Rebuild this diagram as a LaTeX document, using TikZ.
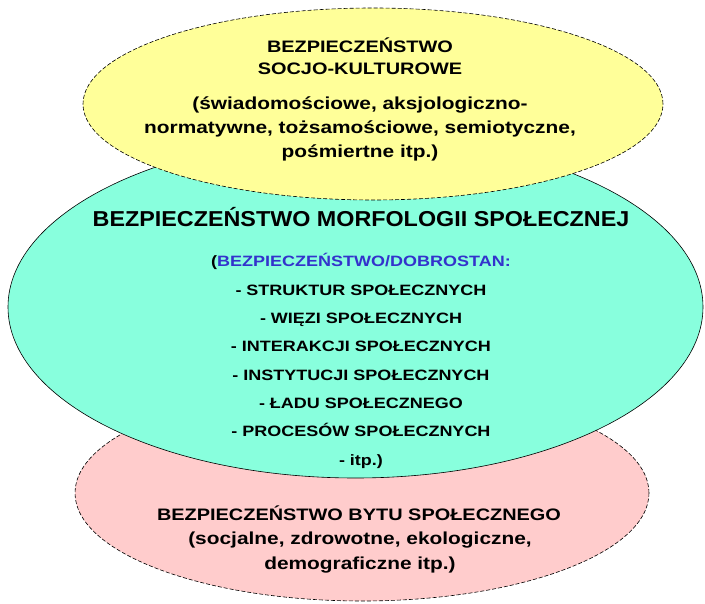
\documentclass[tikz,border=0pt]{standalone}
\usepackage{fontspec}
\setmainfont{Liberation Sans}[FakeStretch=1.2]
\newfontfamily\tytulfont{Liberation Sans}[FakeStretch=1.08]
\usetikzlibrary{shapes,positioning}
\definecolor{lightyellow}{HTML}{FFFF99}
\definecolor{aquamarine}{HTML}{88FFDD}
\definecolor{lightpink}{HTML}{FFCCCC}
\definecolor{darkblue}{HTML}{3333CC}

\begin{document}
\begin{tikzpicture}[x=1pt,y=-1pt]
   \useasboundingbox (0,0) rectangle (705,604);
   \tikzset{sfera/.style={ellipse, draw, line width=0.6pt, inner sep=0pt},
            przerywana/.style={dash pattern=on 4pt off 2pt}}
   % ellipses, back to front
   \node[sfera, przerywana, fill=lightpink, minimum width=574pt, minimum height=216pt] (byt) at (362,493) {};
   \node[sfera, fill=aquamarine, minimum width=695pt, minimum height=342pt] (morfologia) at (355.5,307) {};
   \node[sfera, przerywana, fill=lightyellow, minimum width=580pt, minimum height=192pt] (kultura) at (373,104) {};

   % texts (base = baseline of the last line)
   \node[anchor=base, align=center, font=\fontsize{16.6}{22}\selectfont\bfseries] (kultura-tytul) at (360,75)
   {BEZPIECZEŃSTWO\\SOCJO-KULTUROWE};
   \node[anchor=base, align=center, font=\fontsize{17.4}{24.3}\selectfont\bfseries] (kultura-opis) at (360,158)
   {(świadomościowe, aksjologiczno-\\normatywne, tożsamościowe, semiotyczne,\\pośmiertne itp.)};

   \node[anchor=base, font=\tytulfont\fontsize{21.6}{24}\selectfont\bfseries] (morfologia-tytul) at (361,227)
   {BEZPIECZEŃSTWO MORFOLOGII SPOŁECZNEJ};
   \node[anchor=base, align=center, font=\fontsize{15}{28.3}\selectfont\bfseries] (morfologia-opis) at (361,465)
   {({\color{darkblue}BEZPIECZEŃSTWO/DOBROSTAN:}\\
    - STRUKTUR SPOŁECZNYCH\\
    - WIĘZI SPOŁECZNYCH\\
    - INTERAKCJI SPOŁECZNYCH\\
    - INSTYTUCJI SPOŁECZNYCH\\
    - ŁADU SPOŁECZNEGO\\
    - PROCESÓW SPOŁECZNYCH\\
    - itp.)};

   \node[anchor=base, font=\fontsize{16.6}{22}\selectfont\bfseries] (byt-tytul) at (359,520)
   {BEZPIECZEŃSTWO BYTU SPOŁECZNEGO};
   \node[anchor=base, align=center, font=\fontsize{17.4}{24.3}\selectfont\bfseries] (byt-opis) at (360,569)
   {(socjalne, zdrowotne, ekologiczne,\\demograficzne itp.)};
\end{tikzpicture}
\end{document}
